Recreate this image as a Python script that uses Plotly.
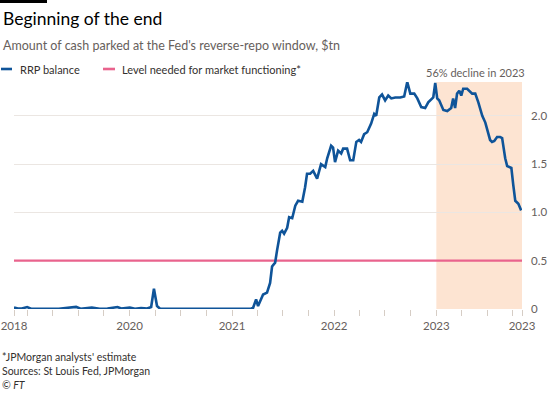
import plotly.graph_objects as go

# RRP balance, $tn
dates = [
    "2018-11-14", "2018-11-28", "2018-12-12", "2018-12-31", "2019-01-14", "2019-03-01",
    "2019-04-23", "2019-06-24", "2019-07-10", "2019-08-19", "2019-09-16", "2019-10-14",
    "2019-11-19", "2019-12-02", "2020-01-02", "2020-01-20", "2020-02-11", "2020-03-04",
    "2020-03-18", "2020-03-28", "2020-04-08", "2020-04-19", "2020-09-11", "2021-02-02",
    "2021-03-10", "2021-03-17", "2021-03-28", "2021-04-04", "2021-04-22", "2021-05-06",
    "2021-05-17", "2021-05-24", "2021-06-04", "2021-06-11", "2021-06-22", "2021-06-29",
    "2021-07-06", "2021-07-17", "2021-07-24", "2021-08-04", "2021-08-15", "2021-08-25",
    "2021-09-09", "2021-09-19", "2021-09-26", "2021-10-07", "2021-10-18", "2021-11-01",
    "2021-11-15", "2021-11-30", "2021-12-07", "2021-12-21", "2021-12-28", "2022-01-04",
    "2022-01-15", "2022-01-26", "2022-02-02", "2022-02-16", "2022-02-27", "2022-03-10",
    "2022-03-21", "2022-03-31", "2022-04-07", "2022-04-18", "2022-04-29", "2022-05-13",
    "2022-05-24", "2022-05-31", "2022-06-11", "2022-06-21", "2022-07-02", "2022-07-13",
    "2022-07-24", "2022-08-07", "2022-08-25", "2022-09-08", "2022-09-19", "2022-09-30",
    "2022-10-14", "2022-10-25", "2022-11-08", "2022-11-22", "2022-12-03", "2022-12-21",
    "2022-12-28", "2023-01-04", "2023-01-11", "2023-01-26", "2023-02-09", "2023-02-23",
    "2023-03-02", "2023-03-09", "2023-03-16", "2023-03-24", "2023-03-31", "2023-04-07",
    "2023-04-21", "2023-05-09", "2023-05-20", "2023-05-31", "2023-06-14", "2023-06-25",
    "2023-07-12", "2023-07-19", "2023-07-27", "2023-08-06", "2023-08-17", "2023-08-24",
    "2023-09-04", "2023-09-11", "2023-09-26", "2023-10-03", "2023-10-10", "2023-10-21",
    "2023-10-31",
]
rrp = [
    0.015, 0.005, 0.005, 0.02, 0.003, 0.002,
    0.003, 0.022, 0.003, 0.015, 0.003, 0.005,
    0.02, 0.005, 0.015, 0.003, 0.01, 0.005,
    0.02, 0.21, 0.03, 0.003, 0.001, 0.003,
    0.005, 0.01, 0.10, 0.03, 0.15, 0.17,
    0.27, 0.44, 0.48, 0.61, 0.79, 0.81,
    0.78, 0.84, 0.95, 0.94, 1.07, 1.12,
    1.11, 1.26, 1.40, 1.40, 1.43, 1.35,
    1.50, 1.47, 1.56, 1.69, 1.67, 1.52,
    1.64, 1.61, 1.66, 1.66, 1.54, 1.54,
    1.73, 1.75, 1.73, 1.81, 1.83, 1.92,
    2.02, 2.00, 2.19, 2.22, 2.16, 2.21,
    2.18, 2.19, 2.19, 2.20, 2.35, 2.23,
    2.23, 2.18, 2.09, 2.08, 2.14, 2.19,
    2.34, 2.18, 2.16, 2.06, 2.05, 2.08,
    2.18, 2.08, 2.23, 2.26, 2.21, 2.28,
    2.28, 2.23, 2.23, 2.14, 2.00, 1.93,
    1.75, 1.73, 1.74, 1.78, 1.78, 1.77,
    1.56, 1.48, 1.46, 1.28, 1.12, 1.09,
    1.02,
]

level_needed = 0.5
axis_start = "2018-11-14"
axis_end = "2023-11-03"
shade_start = "2023-01-01"

x_tickvals = [axis_start, "2020-01-01", "2021-01-01", "2022-01-01", "2023-01-01", axis_end]
x_ticktext = ["2018", "2020", "2021", "2022", "2023", "2023"]
y_tickvals = [0, 0.5, 1.0, 1.5, 2.0]
y_ticktext = ["0", "0.5", "1.0", "1.5", "2.0"]

BLUE = "#0f5499"
PINK = "#e9638d"
SHADE = "#fde4d2"
GREY = "#66605c"
FONT = "Lato"

fig = go.Figure()
fig.add_trace(go.Scatter(x=[axis_start, axis_end], y=[level_needed, level_needed],
                         mode="lines", line=dict(color=PINK, width=2.2),
                         name="Level needed for market functioning*", hoverinfo="skip"))
fig.add_trace(go.Scatter(x=dates, y=rrp, mode="lines",
                         line=dict(color=BLUE, width=2.6), name="RRP balance"))

fig.add_shape(type="rect", xref="x", yref="paper", x0=shade_start, x1=axis_end,
              y0=0, y1=1, fillcolor=SHADE, line=dict(width=0), layer="below")

W, H = 550, 393
L, R, T, B = 14, 28, 82, 84
pw, ph = W - L - R, H - T - B


def px(x):
    return (x - L) / pw


def py(y):
    return (H - B - y) / ph


# FT bar
fig.add_shape(type="rect", xref="paper", yref="paper", x0=px(0), x1=px(47),
              y0=py(3), y1=py(0), fillcolor="#000000", line=dict(width=0))
# legend keys
fig.add_shape(type="line", xref="paper", yref="paper", x0=px(1), x1=px(12),
              y0=py(69), y1=py(69), line=dict(color=BLUE, width=2.6))
fig.add_shape(type="line", xref="paper", yref="paper", x0=px(103), x1=px(115),
              y0=py(69), y1=py(69), line=dict(color=PINK, width=2.6))

ann = [
    ("Beginning of the end", 1, 18, 17.5, "#000000", "left"),
    ("Amount of cash parked at the Fed's reverse-repo window, $tn", 1, 45, 12.5, GREY, "left"),
    ("RRP balance", 18, 69, 11, "#33302e", "left"),
    ("Level needed for market functioning*", 120, 69, 11, "#33302e", "left"),
    ("56% decline in 2023", 527, 72, 11, GREY, "right"),
    ("*JPMorgan analysts' estimate", 0, 357, 10.5, "#33302e", "left"),
    ("Sources: St Louis Fed, JPMorgan", 0, 371, 10.5, "#33302e", "left"),
    ("<i>© FT</i>", 0, 385, 10.5, "#33302e", "left"),
]
for text, x, y, size, color, anchor in ann:
    fig.add_annotation(text=text, xref="paper", yref="paper", x=px(x), y=py(y),
                       xanchor=anchor, yanchor="middle", showarrow=False,
                       font=dict(family=FONT, size=size, color=color))

fig.update_layout(
    width=W, height=H, margin=dict(l=L, r=R, t=T, b=B, autoexpand=False),
    paper_bgcolor="white", plot_bgcolor="white", showlegend=False,
    font=dict(family=FONT, size=11.5, color=GREY),
    xaxis=dict(type="date", range=[axis_start, axis_end], tickvals=x_tickvals,
               ticktext=x_ticktext, showgrid=False, zeroline=False, showline=False,
               automargin=False,
               ticks="outside", ticklen=6, tickcolor="#d6cdc5", tickwidth=1,
               tickfont=dict(size=11.5, color=GREY),
               minor=dict(ticks="outside", ticklen=6, tickcolor="#d6cdc5",
                          tick0="2019-01-01", dtick="M3", showgrid=False)),
    yaxis=dict(range=[0, 2.35], side="right", tickvals=y_tickvals, ticktext=y_ticktext,
               showgrid=True, gridcolor="#ebe6e2", gridwidth=1, zeroline=False,
               showline=False, ticks="", ticklabelstandoff=8, automargin=False,
               tickfont=dict(size=11.5, color=GREY)),
)

fig.write_html("out.html", config={"displayModeBar": False},
               post_script="document.body.style.margin='0';document.body.style.overflow='hidden';")
